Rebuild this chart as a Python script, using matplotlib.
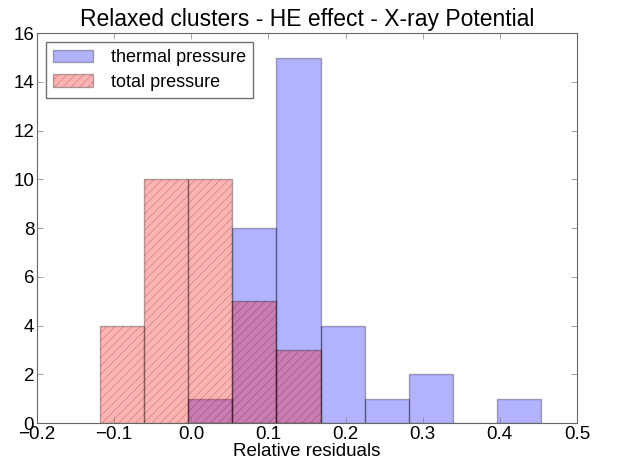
import matplotlib
matplotlib.use("Agg")
import matplotlib.pyplot as plt
import numpy as np

# histogram bins (common width) and counts
BIN_WIDTH = 0.0572
thermal_edges = [-0.0039, 0.0533, 0.1105, 0.1677, 0.2249, 0.2821, 0.3393, 0.3965]
thermal_counts = [1, 8, 15, 4, 1, 2, 0, 1]
total_edges = [-0.1183, -0.0611, -0.0039, 0.0533, 0.1105]
total_counts = [4, 10, 10, 5, 3]

x_ticks = [-0.2, -0.1, 0.0, 0.1, 0.2, 0.3, 0.4, 0.5]
y_ticks = [0, 2, 4, 6, 8, 10, 12, 14, 16]

plt.rcParams["font.family"] = ["Liberation Sans", "DejaVu Sans"]
plt.rcParams["hatch.linewidth"] = 0.4


def main() -> None:
    fig = plt.figure(figsize=(6.17, 4.67), dpi=100)
    ax = fig.add_axes([0.060, 0.094, 0.875, 0.835])

    ax.bar(thermal_edges, thermal_counts, width=BIN_WIDTH, align="edge",
           color="blue", edgecolor="black", linewidth=1.0, alpha=0.3,
           label="thermal pressure")
    ax.bar(total_edges, total_counts, width=BIN_WIDTH, align="edge",
           color="red", edgecolor="black", linewidth=1.0, alpha=0.3,
           hatch="////", label="total pressure")

    ax.set_xlim(-0.2, 0.5)
    ax.set_ylim(0, 16)
    ax.set_xticks(x_ticks)
    ax.set_yticks(y_ticks)
    ax.set_xticklabels([f"{v:.1f}".replace("-", "\u2212") for v in x_ticks])
    ax.tick_params(direction="in", top=True, right=True, labelsize=13.5,
                   length=4, width=0.5, colors="0.5", labelcolor="black", pad=2)
    for spine in ax.spines.values():
        spine.set_color("0.4")

    ax.set_xlabel("Relative residuals", fontsize=13.5, labelpad=0)
    ax.set_title("Relaxed clusters - HE effect - X-ray Potential", fontsize=16.5, pad=5)
    leg = ax.legend(loc="upper left", fontsize=13, fancybox=False,
                    borderaxespad=0.5, handlelength=2.2, labelspacing=0.4,
                    handletextpad=1.0)
    leg.get_frame().set_edgecolor("0.3")

    fig.savefig("out.png", dpi=100)


if __name__ == "__main__":
    main()
